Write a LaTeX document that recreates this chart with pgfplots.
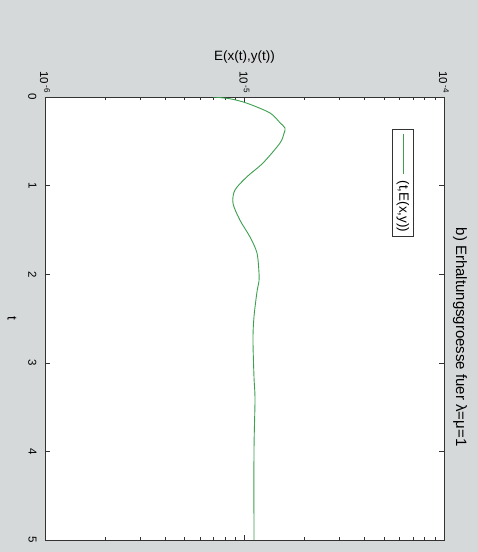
\documentclass[border=0pt]{standalone}
\usepackage{pgfplots}
\pgfplotsset{compat=1.18}
\usepackage{fontspec}
\setmainfont{Liberation Sans}
\definecolor{bg}{RGB}{214,217,217}
\definecolor{curve}{RGB}{60,160,80}
\begin{document}
\begin{tikzpicture}
\fill[bg, use as bounding box] (-45pt,-12pt) rectangle (433pt,540pt);
\begin{axis}[
  at={(0pt,0pt)}, anchor=south west,
  scale only axis, width=399pt, height=443pt,
  clip mode=individual,
  xmode=log, xmin=1e-6, xmax=1e-4,
  ymin=0, ymax=5, y dir=reverse,
  axis background/.style={fill=white},
  tick pos=both, xticklabel pos=upper, yticklabel pos=left,
  xtick={1e-6,1e-5,1e-4},
  xticklabels={10\,\textsuperscript{-6},10\,\textsuperscript{-5},10\,\textsuperscript{-4}},
  minor xtick={2e-6,3e-6,4e-6,5e-6,6e-6,7e-6,8e-6,9e-6,2e-5,3e-5,4e-5,5e-5,6e-5,7e-5,8e-5,9e-5},
  ytick={0,1,2,3,4,5},
  yticklabels={0,1,2,3,4,5},
  xticklabel style={rotate=-90, anchor=east, font=\fontsize{11.5}{13}\selectfont},
  yticklabel style={rotate=-90, anchor=north, font=\fontsize{11.5}{13}\selectfont},
  yticklabel shift=5pt,
  major tick length=5pt, minor tick length=3pt,
  axis line style={black!80, line width=0.7pt},
  every tick/.style={black!80, line width=0.6pt},
  /pgf/number format/assume math mode=true,
]
\addplot[color=curve, line width=0.9pt, smooth, tension=0.5] coordinates {
  (6.95e-6,0) (8.46e-6,0.02) (1.029e-5,0.07) (1.342e-5,0.18) (1.506e-5,0.29)
  (1.596e-5,0.35) (1.578e-5,0.41) (1.506e-5,0.52) (1.238e-5,0.745)
  (1.029e-5,0.9) (8.96e-6,1.05) (8.76e-6,1.2) (9.49e-6,1.39) (1.066e-5,1.58)
  (1.155e-5,1.76) (1.182e-5,1.98) (1.182e-5,2.08) (1.155e-5,2.2) (1.116e-5,2.48)
  (1.103e-5,2.74) (1.116e-5,3.16) (1.129e-5,3.42) (1.116e-5,4.0) (1.116e-5,5)
};
\node[font=\fontsize{13.5}{15}\selectfont] at ([yshift=40pt]axis description cs:0.5,1) {E(x(t),y(t))};
\node[rotate=-90, font=\fontsize{13.5}{15}\selectfont] at ([xshift=-33pt]axis description cs:0,0.5) {t};
\node[rotate=-90, font=\fontsize{15}{17}\selectfont] at ([xshift=16pt]axis description cs:1,0.458) {b) Erhaltungsgroesse fuer λ=μ=1};
\node[rotate=-90, draw=black!80, fill=white, inner sep=4pt, line width=0.6pt, font=\fontsize{13.5}{15}\selectfont] at (axis description cs:0.897,0.806) {\textcolor{curve}{\rule[0.5ex]{40pt}{0.8pt}}\hspace{7pt}(t,E(x,y))};
\end{axis}
\end{tikzpicture}
\end{document}
